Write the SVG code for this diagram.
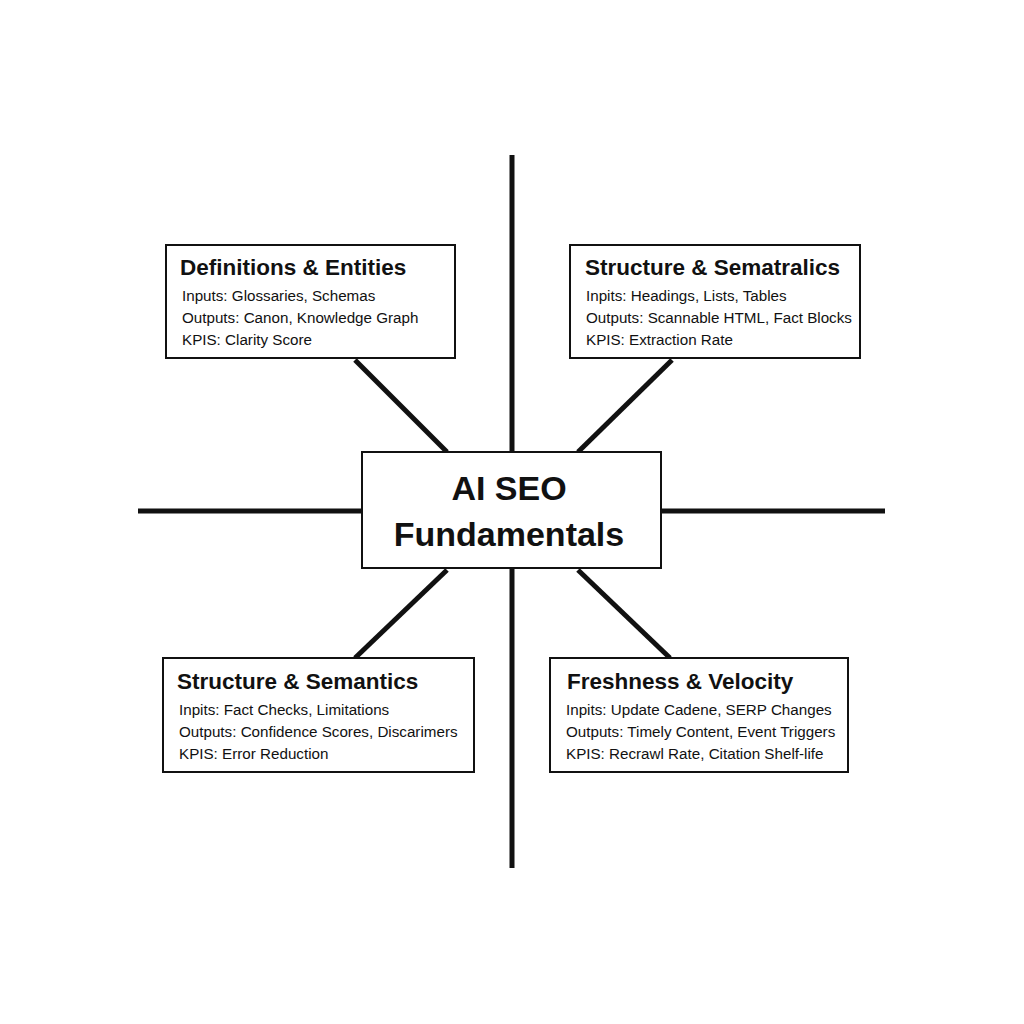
<svg xmlns="http://www.w3.org/2000/svg" width="1024" height="1024" viewBox="0 0 1024 1024">
<style>
.box{fill:#fff;stroke:#111;stroke-width:2}
.ln{stroke:#111;stroke-width:5;fill:none}
.t{font-family:"Liberation Sans",Arial,sans-serif;font-weight:bold;font-size:22.5px;fill:#111}
.b{font-family:"Liberation Sans",Arial,sans-serif;font-size:15.2px;fill:#111}
.c{font-family:"Liberation Sans",Arial,sans-serif;font-weight:bold;font-size:34px;fill:#111}
</style>
<rect width="1024" height="1024" fill="#fff"/>
<g id="connectors">
<line class="ln" x1="512" y1="155" x2="512" y2="868"/>
<line class="ln" x1="138" y1="511" x2="885" y2="511"/>
<line class="ln" x1="355" y1="360" x2="447" y2="452"/>
<line class="ln" x1="672" y1="360" x2="578" y2="452"/>
<line class="ln" x1="447" y1="570" x2="355" y2="658"/>
<line class="ln" x1="578" y1="570" x2="670" y2="658"/>
</g>
<g id="center">
<rect class="box" x="362" y="452" width="299" height="116"/>
<text class="c" x="509" y="500" text-anchor="middle">AI SEO</text>
<text class="c" x="509" y="546" text-anchor="middle">Fundamentals</text>
</g>
<g id="tl">
<rect class="box" x="166" y="245" width="289" height="113"/>
<text class="t" x="180" y="275">Definitions &amp; Entities</text>
<text class="b" x="182" y="301">Inputs: Glossaries, Schemas</text>
<text class="b" x="182" y="323">Outputs: Canon, Knowledge Graph</text>
<text class="b" x="182" y="345">KPIS: Clarity Score</text>
</g>
<g id="tr">
<rect class="box" x="570" y="245" width="290" height="113"/>
<text class="t" x="585" y="275">Structure &amp; Sematralics</text>
<text class="b" x="586" y="301">Inpits: Headings, Lists, Tables</text>
<text class="b" x="586" y="323">Outputs: Scannable HTML, Fact Blocks</text>
<text class="b" x="586" y="345">KPIS: Extraction Rate</text>
</g>
<g id="bl">
<rect class="box" x="163" y="658" width="311" height="114"/>
<text class="t" x="177" y="689">Structure &amp; Semantics</text>
<text class="b" x="179" y="715">Inpits: Fact Checks, Limitations</text>
<text class="b" x="179" y="737">Outputs: Confidence Scores, Discarimers</text>
<text class="b" x="179" y="759">KPIS: Error Reduction</text>
</g>
<g id="br">
<rect class="box" x="550" y="658" width="298" height="114"/>
<text class="t" x="567" y="689">Freshness &amp; Velocity</text>
<text class="b" x="566" y="715">Inpits: Update Cadene, SERP Changes</text>
<text class="b" x="566" y="737">Outputs: Timely Content, Event Triggers</text>
<text class="b" x="566" y="759">KPIS: Recrawl Rate, Citation Shelf-life</text>
</g>
</svg>
